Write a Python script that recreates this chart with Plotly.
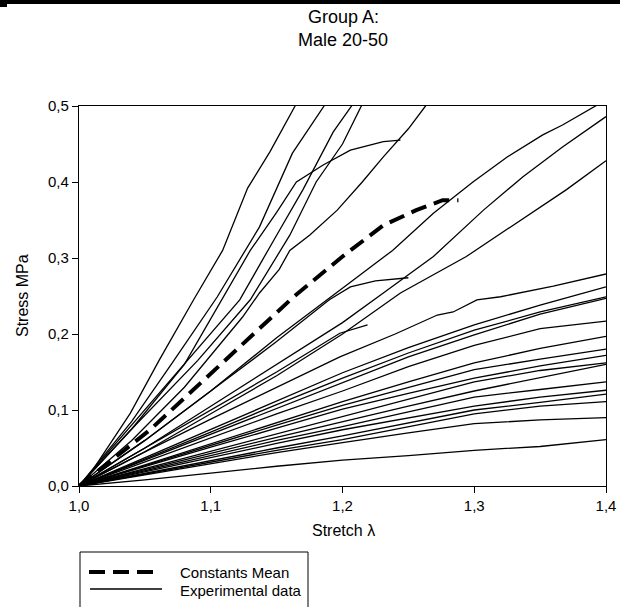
import plotly.graph_objects as go

# ---- data: stretch (lambda) vs. stress (MPa) ----
mean_stretch = [1.0, 1.02, 1.054, 1.092, 1.127, 1.163, 1.2, 1.231, 1.256, 1.276, 1.288]
mean_stress = [0, 0.027, 0.074, 0.135, 0.192, 0.249, 0.302, 0.343, 0.363, 0.376, 0.376]

# stiff specimens (run off the top of the axis)
s1_x = [1.0, 1.01, 1.039, 1.061, 1.087, 1.109, 1.128, 1.145, 1.164, 1.175]
s1_y = [0, 0.02, 0.096, 0.166, 0.245, 0.31, 0.392, 0.44, 0.50, 0.53]
s2_x = [1.0, 1.04, 1.07, 1.105, 1.137, 1.162, 1.186, 1.195]
s2_y = [0, 0.085, 0.16, 0.249, 0.341, 0.438, 0.50, 0.53]
s3_x = [1.0, 1.04, 1.08, 1.122, 1.15, 1.17, 1.193, 1.207, 1.215]
s3_y = [0, 0.08, 0.16, 0.245, 0.33, 0.39, 0.466, 0.50, 0.52]
s4_x = [1.0, 1.04, 1.09, 1.13, 1.16, 1.18, 1.20, 1.214, 1.22]
s4_y = [0, 0.075, 0.165, 0.245, 0.33, 0.40, 0.45, 0.50, 0.52]
sat_x = [1.0, 1.04, 1.08, 1.11, 1.13, 1.15, 1.165, 1.185, 1.206, 1.231, 1.244]
sat_y = [0, 0.075, 0.16, 0.25, 0.31, 0.36, 0.40, 0.422, 0.442, 0.453, 0.455]
s5_x = [1.0, 1.04, 1.08, 1.124, 1.137, 1.152, 1.16, 1.175, 1.196, 1.215, 1.231, 1.25, 1.263, 1.27]
s5_y = [0, 0.06, 0.13, 0.222, 0.254, 0.285, 0.31, 0.33, 0.363, 0.40, 0.433, 0.47, 0.50, 0.515]

# intermediate specimens
u6_x = [1.0, 1.05, 1.1, 1.15, 1.206, 1.238, 1.269, 1.299, 1.325, 1.352, 1.367, 1.392, 1.40]
u6_y = [0, 0.06, 0.125, 0.195, 0.268, 0.31, 0.359, 0.40, 0.433, 0.462, 0.475, 0.50, 0.508]
u7_x = [1.0, 1.05, 1.1, 1.15, 1.2, 1.231, 1.269, 1.307, 1.337, 1.367, 1.4]
u7_y = [0, 0.05, 0.105, 0.16, 0.215, 0.254, 0.302, 0.363, 0.407, 0.446, 0.486]
u8_x = [1.0, 1.05, 1.1, 1.15, 1.2, 1.244, 1.294, 1.332, 1.37, 1.4]
u8_y = [0, 0.045, 0.095, 0.145, 0.20, 0.254, 0.302, 0.346, 0.39, 0.428]
e9_x = [1.0, 1.05, 1.1, 1.15, 1.19, 1.206, 1.225, 1.25]
e9_y = [0, 0.06, 0.125, 0.19, 0.245, 0.262, 0.27, 0.274]
e10_x = [1.0, 1.05, 1.1, 1.15, 1.198, 1.219]
e10_y = [0, 0.05, 0.10, 0.15, 0.201, 0.212]

# compliant specimens, sampled on a common stretch grid
grid = [1.0, 1.05, 1.1, 1.15, 1.2, 1.25, 1.3, 1.35, 1.4]
k1_x = [1.0, 1.05, 1.1, 1.15, 1.198, 1.24, 1.272, 1.284, 1.302, 1.32, 1.36, 1.4]
k1_y = [0, 0.045, 0.088, 0.13, 0.170, 0.20, 0.225, 0.229, 0.245, 0.249, 0.263, 0.279]
k2_y = [0, 0.037, 0.075, 0.112, 0.149, 0.182, 0.212, 0.238, 0.262]
k3_y = [0, 0.035, 0.071, 0.107, 0.142, 0.175, 0.205, 0.229, 0.249]
k4_y = [0, 0.034, 0.068, 0.103, 0.137, 0.170, 0.199, 0.226, 0.247]
k5_y = [0, 0.032, 0.064, 0.095, 0.125, 0.157, 0.185, 0.207, 0.217]
k6_y = [0, 0.028, 0.056, 0.083, 0.111, 0.137, 0.162, 0.181, 0.197]
k7_y = [0, 0.027, 0.054, 0.080, 0.106, 0.130, 0.153, 0.167, 0.180]
k8_y = [0, 0.026, 0.051, 0.076, 0.101, 0.122, 0.142, 0.158, 0.172]
k9_y = [0, 0.023, 0.046, 0.069, 0.091, 0.115, 0.137, 0.152, 0.162]
k10_y = [0, 0.022, 0.043, 0.064, 0.085, 0.105, 0.125, 0.143, 0.160]
k11_y = [0, 0.020, 0.040, 0.060, 0.078, 0.098, 0.117, 0.127, 0.137]
k12_y = [0, 0.019, 0.038, 0.056, 0.074, 0.090, 0.105, 0.117, 0.126]
k13_y = [0, 0.017, 0.034, 0.050, 0.066, 0.083, 0.100, 0.110, 0.121]
k14_y = [0, 0.016, 0.032, 0.047, 0.061, 0.078, 0.095, 0.105, 0.111]
k15_y = [0, 0.015, 0.030, 0.044, 0.057, 0.070, 0.082, 0.087, 0.090]
k16_y = [0, 0.008, 0.017, 0.026, 0.034, 0.040, 0.047, 0.052, 0.061]

x_ticks = [1.0, 1.1, 1.2, 1.3, 1.4]
x_ticktext = ["1,0", "1,1", "1,2", "1,3", "1,4"]
y_ticks = [0.0, 0.1, 0.2, 0.3, 0.4, 0.5]
y_ticktext = ["0,0", "0,1", "0,2", "0,3", "0,4", "0,5"]

FONT = "Liberation Sans, Arial, sans-serif"

experimental = [
    (s1_x, s1_y), (s2_x, s2_y), (s3_x, s3_y), (s4_x, s4_y), (sat_x, sat_y), (s5_x, s5_y),
    (u6_x, u6_y), (u7_x, u7_y), (u8_x, u8_y), (e9_x, e9_y), (e10_x, e10_y),
    (k1_x, k1_y),
] + [(grid, ys) for ys in (k2_y, k3_y, k4_y, k5_y, k6_y, k7_y, k8_y, k9_y,
                            k10_y, k11_y, k12_y, k13_y, k14_y, k15_y, k16_y)]

fig = go.Figure()
for xs, ys in experimental:
    fig.add_trace(go.Scatter(x=xs, y=ys, mode="lines", showlegend=False,
                             line=dict(color="black", width=1.3)))

fig.add_trace(go.Scatter(x=mean_stretch, y=mean_stress, mode="lines", showlegend=False,
                         line=dict(color="black", width=4, dash="16px,8px")))

# plot area in pixels: x 79..606, y 106..486
L, R, T, B = 79, 606, 106, 486
W, H = 620, 607
def px(xp):
    return (xp - L) / (R - L)
def py(yp):
    return (B - yp) / (B - T)

shapes = [
    # black strip along the top edge
    dict(type="rect", xref="paper", yref="paper", x0=px(-2), x1=px(W + 2), y0=py(4), y1=py(-2),
         fillcolor="black", line=dict(width=0)),
    dict(type="rect", xref="paper", yref="paper", x0=px(-2), x1=px(7), y0=py(7), y1=py(3),
         fillcolor="black", line=dict(width=0)),
    # legend frame and samples
    dict(type="rect", xref="paper", yref="paper", x0=px(80), x1=px(308), y0=py(620), y1=py(552),
         line=dict(color="black", width=1), fillcolor="white"),
    dict(type="line", xref="paper", yref="paper", x0=px(89), x1=px(154), y0=py(572), y1=py(572),
         line=dict(color="black", width=4, dash="16px,8px")),
    dict(type="line", xref="paper", yref="paper", x0=px(90), x1=px(162), y0=py(589), y1=py(589),
         line=dict(color="black", width=1.3)),
]

annotations = [
    dict(text="Group A:", xref="paper", yref="paper", x=px(343), y=py(17),
         showarrow=False, font=dict(family=FONT, size=18, color="black"), yanchor="middle"),
    dict(text="Male 20-50", xref="paper", yref="paper", x=px(343), y=py(40),
         showarrow=False, font=dict(family=FONT, size=18, color="black"), yanchor="middle"),
    dict(text="Stretch λ", xref="paper", yref="paper", x=px(343), y=py(530),
         showarrow=False, font=dict(family=FONT, size=16, color="black"), yanchor="middle"),
    dict(text="Stress MPa", xref="paper", yref="paper", x=px(22), y=py(296), textangle=-90,
         showarrow=False, font=dict(family=FONT, size=16, color="black"),
         xanchor="center", yanchor="middle"),
    dict(text="Constants Mean", xref="paper", yref="paper", x=px(178), y=py(572),
         showarrow=False, font=dict(family=FONT, size=15, color="black"),
         xanchor="left", yanchor="middle"),
    dict(text="Experimental data", xref="paper", yref="paper", x=px(178), y=py(590),
         showarrow=False, font=dict(family=FONT, size=15, color="black"),
         xanchor="left", yanchor="middle"),
]

axis_common = dict(showgrid=False, zeroline=False, showline=True, linecolor="black",
                   linewidth=1.3, mirror=True, ticks="outside", ticklen=6, tickwidth=1.2,
                   tickcolor="black", automargin=False,
                   tickfont=dict(family=FONT, size=15, color="black"))

fig.update_layout(
    width=W, height=H, autosize=False,
    margin=dict(l=L, r=W - R, t=T, b=H - B, pad=0, autoexpand=False),
    paper_bgcolor="white", plot_bgcolor="white",
    showlegend=False,
    xaxis=dict(range=[1.0, 1.4], tickvals=x_ticks, ticktext=x_ticktext, **axis_common),
    yaxis=dict(range=[0, 0.5], tickvals=y_ticks, ticktext=y_ticktext, **axis_common),
    shapes=shapes,
    annotations=annotations,
)

fig.write_html(
    "out.html",
    config={"responsive": False},
    post_script="document.documentElement.style.overflow='hidden';"
                "document.body.style.margin='0';document.body.style.overflow='hidden';",
)
